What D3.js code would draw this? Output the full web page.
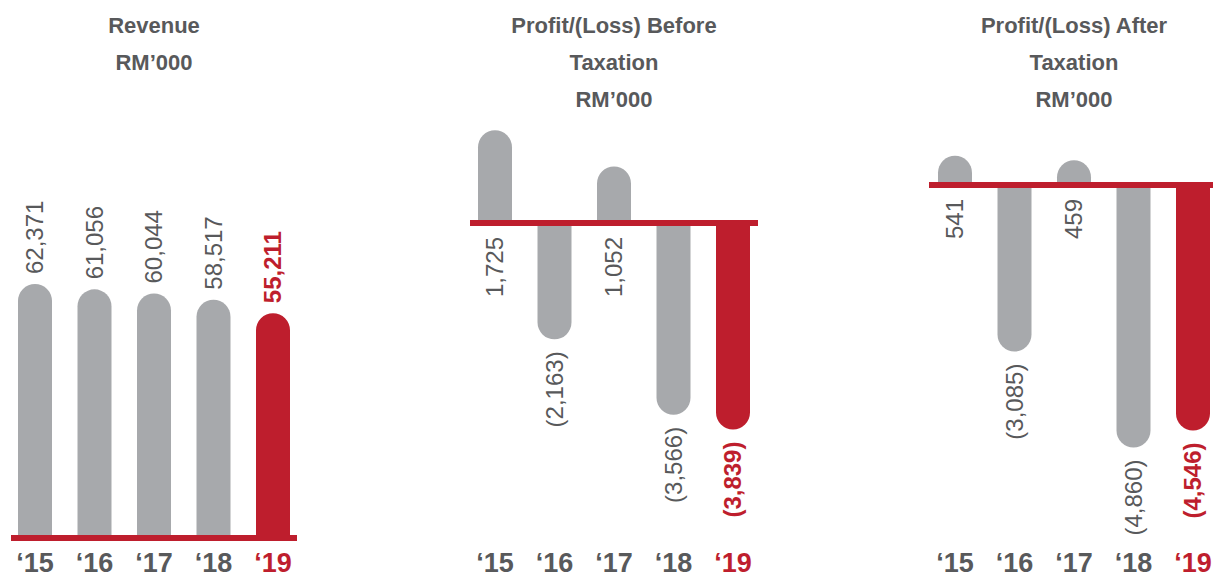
<!DOCTYPE html>
<html>
<head>
<meta charset="utf-8">
<script src="https://cdn.jsdelivr.net/npm/d3@7"></script>
<style>
  body { margin: 0; background: #fff; }
  text { font-family: "Liberation Sans", Arial, Helvetica, sans-serif; }
</style>
</head>
<body>
<div id="chart"></div>
<script>
const years = ["\u201815", "\u201816", "\u201817", "\u201818", "\u201819"];
const revenue = [62371, 61056, 60044, 58517, 55211];
const profitBeforeTax = [1725, -2163, 1052, -3566, -3839];
const profitAfterTax = [541, -3085, 459, -4860, -4546];
const revenueLabels = ["62,371", "61,056", "60,044", "58,517", "55,211"];
const pbtLabels = ["1,725", "(2,163)", "1,052", "(3,566)", "(3,839)"];
const patLabels = ["541", "(3,085)", "459", "(4,860)", "(4,546)"];
const titles = [
    ["Revenue", "RM\u2019000"],
    ["Profit/(Loss) Before", "Taxation", "RM\u2019000"],
    ["Profit/(Loss) After", "Taxation", "RM\u2019000"]
];

const width = 1213, height = 578;
const grey = "#a7a9ac", red = "#be1e2d", textGrey = "#58595b";
const barW = 34;

const panels = [
    {values: revenue, labels: revenueLabels, title: titles[0], cx: 154,
     xr: [35, 273], line: [11, 297], base: 538, domain: [0, 62371], range: [538, 284], labelAbove: true},
    {values: profitBeforeTax, labels: pbtLabels, title: titles[1], cx: 614,
     xr: [495, 733], line: [470, 758], base: 223, domain: [-4000, 2000], range: [438.2, 115.4], labelAbove: false},
    {values: profitAfterTax, labels: patLabels, title: titles[2], cx: 1074,
     xr: [955, 1193], line: [929, 1213], base: 185, domain: [-5000, 1000], range: [455, 131], labelAbove: false}
];

const svg = d3.select("#chart").append("svg")
    .attr("width", width)
    .attr("height", height);

function barPath(x0, x1, y0, y1) {
    // rounded cap on the end away from the baseline
    const r = (x1 - x0) / 2;
    const up = y1 < y0;
    const yc = up ? y1 + r : y1 - r;
    return `M${x0},${y0} L${x0},${yc} A${r},${r} 0 0 ${up ? 1 : 0} ${x1},${yc} L${x1},${y0} Z`;
}

panels.forEach(p => {
    const data = years.map((yr, i) => ({year: yr, value: p.values[i], label: p.labels[i], last: i == years.length - 1}));
    const x = d3.scalePoint().domain(years).range(p.xr);
    const y = d3.scaleLinear().domain(p.domain).range(p.range);
    const g = svg.append("g");

    g.append("text")
        .attr("text-anchor", "middle")
        .attr("font-size", 22)
        .attr("font-weight", "bold")
        .attr("fill", textGrey)
        .selectAll("tspan")
        .data(p.title)
        .enter()
        .append("tspan")
        .attr("x", p.cx)
        .attr("y", (d, i) => 33 + i * 37)
        .text(d => d);

    g.selectAll("path.bar")
        .data(data)
        .enter()
        .append("path")
        .attr("class", "bar")
        .attr("d", d => barPath(x(d.year) - barW / 2, x(d.year) + barW / 2, y(0), y(d.value)))
        .attr("fill", d => d.last ? red : grey);

    g.append("line")
        .attr("x1", p.line[0])
        .attr("x2", p.line[1])
        .attr("y1", p.base)
        .attr("y2", p.base)
        .attr("stroke", red)
        .attr("stroke-width", 6);

    g.selectAll("text.val")
        .data(data)
        .enter()
        .append("text")
        .attr("class", "val")
        .attr("transform", d => {
            let ty;
            if (p.labelAbove) ty = y(d.value) - 10;
            else if (d.value >= 0) ty = y(0) + 14;
            else ty = y(d.value) + 12;
            return `translate(${x(d.year)},${ty}) rotate(-90)`;
        })
        .attr("text-anchor", p.labelAbove ? "start" : "end")
        .attr("dy", "0.35em")
        .attr("font-size", 24)
        .attr("font-weight", d => d.last ? "bold" : "normal")
        .attr("fill", d => d.last ? red : textGrey)
        .text(d => d.label);

    g.selectAll("text.year")
        .data(data)
        .enter()
        .append("text")
        .attr("class", "year")
        .attr("x", d => x(d.year))
        .attr("y", 572)
        .attr("text-anchor", "middle")
        .attr("font-size", 27)
        .attr("font-weight", "bold")
        .attr("fill", d => d.last ? red : textGrey)
        .text(d => d.year);
});
</script>
</body>
</html>
